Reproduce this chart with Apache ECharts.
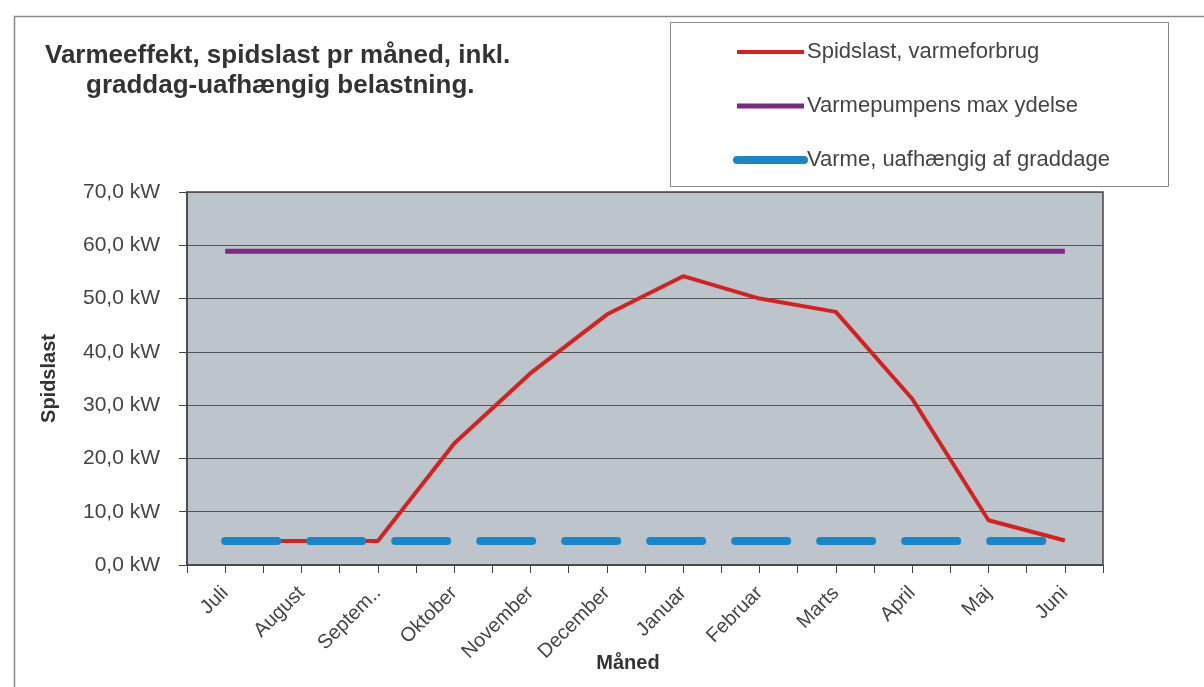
<!DOCTYPE html>
<html><head><meta charset="utf-8">
<script src="https://cdn.jsdelivr.net/npm/echarts@6/dist/echarts.min.js"></script>
<style>html,body{margin:0;padding:0;background:#fff}#c{width:1204px;height:687px}</style>
</head><body><div id="c"></div>
<script>
const months = ['Juli','August','Septem..','Oktober','November','December','Januar','Februar','Marts','April','Maj','Juni'];
const spidslast = [4.5, 4.5, 4.5, 22.8, 36.0, 47.0, 54.2, 50.0, 47.5, 31.2, 8.4, 4.6];
const maxYdelse = [58.9, 58.9, 58.9, 58.9, 58.9, 58.9, 58.9, 58.9, 58.9, 58.9, 58.9, 58.9];
const uafhaengig = [4.5, 4.5, 4.5, 4.5, 4.5, 4.5, 4.5, 4.5, 4.5, 4.5, 4.5, 4.5];
const seriesNames = ['Spidslast, varmeforbrug','Varmepumpens max ydelse','Varme, uafhængig af graddage'];

const font = '"Liberation Sans", Arial, sans-serif';
const chart = echarts.init(document.getElementById('c'));
chart.setOption({
  animation:false,
  backgroundColor:'#fff',
  graphic:[
    {type:'rect',left:12,top:14,shape:{width:1200,height:700},style:{fill:'none',stroke:'#8a8a8a',lineWidth:1.5},z:-1},
    {type:'rect',left:670,top:22,shape:{width:498,height:164},style:{fill:'#fff',stroke:'#888',lineWidth:1},z:0}
  ],
  title:[
    {text:'Varmeeffekt, spidslast pr måned, inkl.',left:40,top:38,textStyle:{fontFamily:font,fontSize:26,fontWeight:'bold',color:'#333'}},
    {text:'graddag-uafhængig belastning.',left:81,top:68,textStyle:{fontFamily:font,fontSize:26,fontWeight:'bold',color:'#333'}}
  ],
  legend:{
    orient:'vertical',left:728,top:36,itemWidth:67,itemHeight:8,itemGap:32,
    textStyle:{fontFamily:font,fontSize:22,color:'#444',padding:[0,0,0,-2]},
    data:[
      {name:seriesNames[0],itemStyle:{opacity:0},lineStyle:{width:4}},
      {name:seriesNames[1],itemStyle:{opacity:0},lineStyle:{width:5}},
      {name:seriesNames[2],itemStyle:{opacity:0},lineStyle:{type:'solid',width:8,cap:'round'}}
    ],
    z:5
  },
  grid:{left:187,right:101,top:192,bottom:122,show:true,outerBoundsMode:'none',containLabel:false,backgroundColor:'#bcc4cc',borderColor:'#444',borderWidth:1.5},
  xAxis:[
    {type:'category',data:months,boundaryGap:true,
     name:'Måned',nameLocation:'middle',nameGap:88,nameMoveOverlap:false,
     nameTextStyle:{fontFamily:font,fontSize:20,fontWeight:'bold',color:'#333',padding:[0,34,0,0]},
     axisLine:{lineStyle:{color:'#444',width:1.5}},
     axisTick:{show:true,length:8,lineStyle:{color:'#444'}},
     axisLabel:{rotate:45,fontFamily:font,fontSize:20,color:'#444',margin:25,interval:0},
     splitLine:{show:false}},
    {type:'category',data:months,boundaryGap:true,position:'bottom',
     axisLine:{show:false},axisTick:{show:true,alignWithLabel:true,length:8,lineStyle:{color:'#444'}},
     axisLabel:{show:false},splitLine:{show:false}}
  ],
  yAxis:{type:'value',min:0,max:70,interval:10,
    name:'Spidslast',nameLocation:'middle',nameGap:128,nameMoveOverlap:false,
    nameTextStyle:{fontFamily:font,fontSize:20,fontWeight:'bold',color:'#333'},
    axisLine:{show:true,lineStyle:{color:'#444',width:1.5}},
    axisTick:{show:true,length:8,lineStyle:{color:'#444'}},
    axisLabel:{fontFamily:font,fontSize:21,color:'#444',margin:27,formatter:v=>v.toFixed(1).replace('.',',')+' kW'},
    splitLine:{lineStyle:{color:'#555',width:1}}
  },
  series:[
    {name:seriesNames[0],type:'line',data:spidslast,symbol:'none',lineStyle:{color:'#d42222',width:4},itemStyle:{color:'#d42222'},z:3},
    {name:seriesNames[1],type:'line',data:maxYdelse,symbol:'none',lineStyle:{color:'#7a2a80',width:5},itemStyle:{color:'#7a2a80'},z:3},
    {name:seriesNames[2],type:'line',data:uafhaengig,symbol:'none',lineStyle:{color:'#1a86c8',width:8,type:[52,33],cap:'round'},itemStyle:{color:'#1a86c8'},z:4}
  ]
});
</script></body></html>
